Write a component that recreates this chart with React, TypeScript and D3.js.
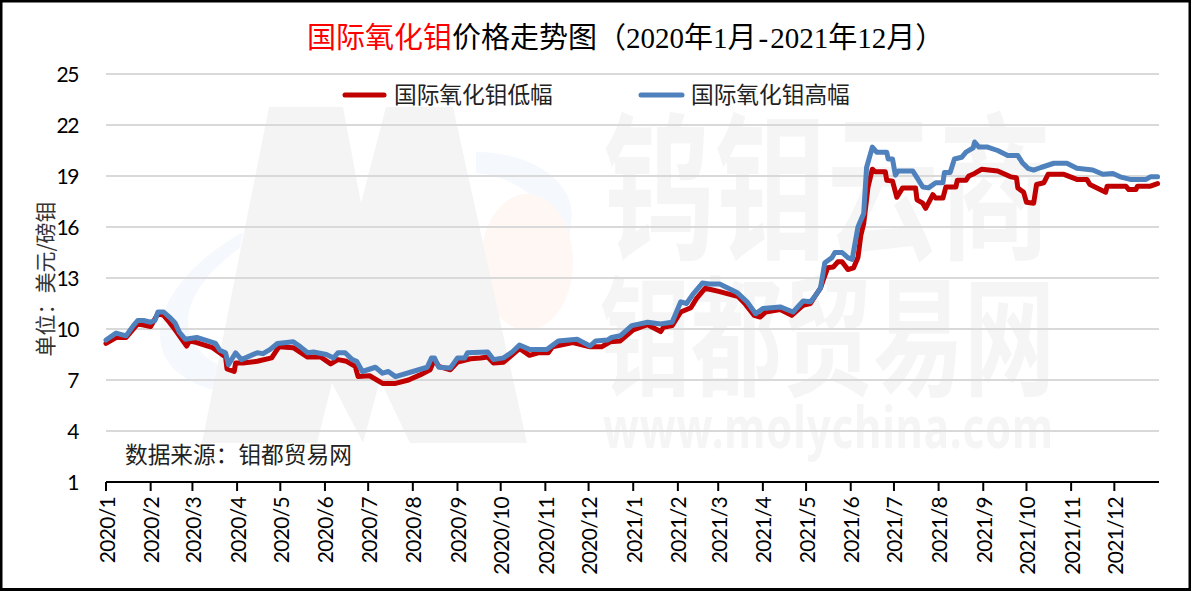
import React from "react";
import * as d3 from "d3";

const W = 1191, H = 591;
const yTicks = [1, 4, 7, 10, 13, 16, 19, 22, 25];
const monthLabels = ["2020/1","2020/2","2020/3","2020/4","2020/5","2020/6","2020/7","2020/8","2020/9","2020/10","2020/11","2020/12","2021/1","2021/2","2021/3","2021/4","2021/5","2021/6","2021/7","2021/8","2021/9","2021/10","2021/11","2021/12"];

// days since 2020-01-01
const lowDays = [0,7,14,22,31,36,40,44,48,56,58,63,74,83,84,89,90,95,105,115,120,130,140,149,156,161,167,173,175,183,192,201,210,218,225,228,231,239,244,253,260,265,269,276,287,294,300,307,310,324,336,344,350,357,366,376,385,387,393,399,406,410,416,426,439,444,450,454,458,468,476,484,489,492,496,498,501,505,508,511,515,519,522,524,526,529,532,534,541,542,546,549,553,562,563,567,569,574,576,581,583,590,591,597,599,603,608,619,628,632,633,637,639,644,646,651,654,665,674,681,683,694,695,708,710,715,716,725,730];
const lowValues = [9.15,9.5,9.5,10.3,10.15,10.9,10.8,10.4,9.95,9,9.3,9.2,8.9,8.35,7.65,7.5,8,8,8.1,8.3,8.95,8.9,8.35,8.35,7.95,8.2,8.1,7.8,7.2,7.25,6.8,6.8,7,7.3,7.6,8.2,7.8,7.6,8.05,8.25,8.3,8.35,8,8.05,8.85,8.45,8.6,8.6,8.95,9.2,8.95,8.95,9.25,9.3,9.95,10.25,9.85,10.1,10.2,11,11.25,11.8,12.4,12.2,11.9,11.45,10.8,10.7,11,11.15,10.8,11.4,11.5,11.9,12.4,12.9,13.6,13.65,13.95,13.95,13.5,13.6,14.2,15.5,16.2,18.35,19.4,19.25,19.25,18.75,18.7,17.75,18.3,18.3,17.6,17.4,17.1,17.9,17.7,17.7,18.35,18.35,18.75,18.75,19,19.15,19.4,19.3,18.95,18.9,18.3,18.05,17.45,17.4,18.5,18.6,19.1,19.1,18.8,18.8,18.5,18.05,18.4,18.4,18.2,18.2,18.4,18.4,18.55];

const highDays = [0,7,14,19,22,26,31,34,36,40,44,48,51,55,63,69,76,79,83,85,90,94,105,109,114,119,130,135,140,144,153,158,161,166,171,174,178,187,192,196,201,213,223,226,228,231,239,244,249,251,265,269,276,282,287,294,306,314,327,336,340,348,351,357,365,376,385,393,399,403,408,414,419,426,438,445,451,456,468,477,484,489,492,496,499,504,506,511,515,518,522,526,528,532,535,542,543,546,548,550,560,563,567,571,576,581,582,586,589,594,597,602,603,606,612,619,626,633,636,640,644,649,658,667,674,685,692,699,704,711,722,725,730];
const highValues = [9.35,9.76,9.6,10.2,10.5,10.5,10.4,10.5,11,11,10.7,10.35,9.8,9.4,9.5,9.35,9.15,8.75,8.6,7.9,8.6,8.2,8.6,8.55,8.8,9.15,9.25,8.95,8.6,8.65,8.5,8.3,8.6,8.6,8.2,8.1,7.5,7.75,7.4,7.5,7.2,7.5,7.75,8.3,8.3,7.75,7.7,8.3,8.3,8.6,8.65,8.2,8.3,8.65,9.05,8.8,8.8,9.3,9.4,9,9.3,9.35,9.5,9.6,10.2,10.4,10.3,10.4,11.6,11.5,12.1,12.7,12.65,12.65,12.15,11.6,10.9,11.2,11.3,11,11.65,11.6,11.9,12.4,13.9,14.2,14.5,14.5,14.2,14.1,16,16.8,19.5,20.7,20.4,20.4,20,20,19.05,19.3,19.3,18.9,18.35,18.3,18.6,18.6,19.2,19.2,20,20.1,20.4,20.65,21,20.7,20.7,20.5,20.2,20.2,19.8,19.45,19.35,19.5,19.75,19.75,19.45,19.35,19.1,19.15,18.95,18.8,18.8,18.95,18.95];

const CJK = "'Noto Sans CJK SC'";
const start = new Date(2020, 0, 1);
const end = new Date(2022, 0, 1);
const x = d3.scaleTime().domain([start, end]).range([106, 1159]);
const y = d3.scaleLinear().domain([1, 25]).range([482, 74]);
const months = d3.timeMonth.range(start, end);
const line = d3.line<[number, number]>()
  .x((d) => x(d3.timeDay.offset(start, d[0])))
  .y((d) => y(d[1]));
const zip = (a: number[], b: number[]) => a.map((v, i) => [v, b[i]] as [number, number]);

export default function App() {
  return (
    <svg width={W} height={H} viewBox={`0 0 ${W} ${H}`} style={{ position: "fixed", left: 0, top: 0, display: "block", background: "#fff" }}>
      <g>
        <path d="M243,232 C190,262 160,300 160,335 C160,375 205,395 255,395 C330,395 420,345 497,314 L494,308 C420,335 330,373 262,373 C215,373 188,350 188,320 C188,295 215,265 240,248 Z" fill="#f5f8fd" />
        <path d="M476,152 C530,152 572,180 572,215 L568,250 L545,210 C530,190 505,175 476,173 Z" fill="#f5f8fd" />
        <ellipse cx={527} cy={262} rx={46} ry={68} fill="#fff7f3" />
        <polygon points="202,443 269,107 343,107 361,203 386,107 453,107 527,443 410,443 380,380 363,443 332,383 317,443" fill="#f4f4f4" />
        <text transform="translate(603,247) scale(1,1.42)" fontFamily={CJK} fontWeight={700} fontSize={112} fill="#f5f5f5">钨钼云商</text>
        <text transform="translate(600,385) scale(1,1.42)" fontFamily={CJK} fontWeight={700} fontSize={91} fill="#f5f5f5">钼都贸易网</text>
        <text transform="translate(603,448) scale(1,1.35)" fontFamily="'Noto Sans'" fontWeight={700} fontSize={42} fill="#f5f5f5" textLength={450} lengthAdjust="spacing">www.molychina.com</text>
      </g>

      {yTicks.filter((t) => t > 1).map((t) => (
        <line key={t} x1={106} x2={1159} y1={y(t)} y2={y(t)} stroke="#d9d9d9" strokeWidth={2} />
      ))}

      {yTicks.map((t) => (
        <text key={t} x={78} y={y(t) + 7.5} textAnchor="end" fontFamily="Lato" fontSize={21} letterSpacing={-1.4} fill="#000">{t}</text>
      ))}

      <line x1={106} x2={1159} y1={482} y2={482} stroke="#000" strokeWidth={2} />
      {months.map((m, i) => (
        <g key={i}>
          <line x1={x(m)} x2={x(m)} y1={482} y2={491} stroke="#000" strokeWidth={2} />
          <text transform={`translate(${x(m) + 8.5},497) rotate(-90)`} textAnchor="end" fontFamily="Lato" fontSize={21} letterSpacing={-0.7} fill="#000">{monthLabels[i]}</text>
        </g>
      ))}

      <path d={line(zip(lowDays, lowValues)) ?? ""} fill="none" stroke="#c00000" strokeWidth={5} strokeLinejoin="round" strokeLinecap="round" />
      <path d={line(zip(highDays, highValues)) ?? ""} fill="none" stroke="#4f81bd" strokeWidth={5} strokeLinejoin="round" strokeLinecap="round" />

      <text x={307} y={48} fontSize={29} fontFamily={`'Liberation Serif', ${CJK}`} fill="#000">
        <tspan fill="#ff0000">国际氧化钼</tspan>价格走势图（2020年1月<tspan dx={2}>-</tspan><tspan dx={2}>2021</tspan>年12月）
      </text>

      <line x1={345} x2={384} y1={95} y2={95} stroke="#c00000" strokeWidth={5} strokeLinecap="round" />
      <text x={394} y={103} fontFamily={CJK} fontSize={22.7} fill="#222">国际氧化钼低幅</text>
      <line x1={641} x2={682} y1={95} y2={95} stroke="#4f81bd" strokeWidth={5} strokeLinecap="round" />
      <text x={691} y={103} fontFamily={CJK} fontSize={22.7} fill="#222">国际氧化钼高幅</text>

      <text x={125} y={463} fontFamily={CJK} fontSize={22.7} fill="#222">{"数据来源\uFF1A钼都贸易网"}</text>

      <text transform="translate(53,279) rotate(-90)" textAnchor="middle" fontFamily={CJK} fontSize={21} fill="#333">{"单位\uFF1A美元/磅钼"}</text>

      <rect x={1} y={1} width={W - 2} height={H - 2.5} fill="none" stroke="#000" strokeWidth={3} />
    </svg>
  );
}
